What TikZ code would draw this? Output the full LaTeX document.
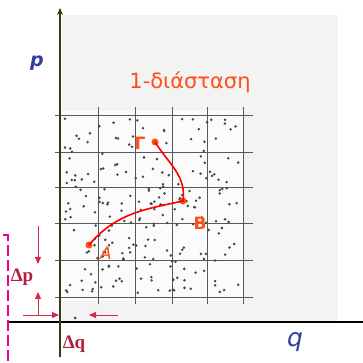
\documentclass[tikz,border=0pt]{standalone}
\usepackage{fontspec}
\setmainfont{DejaVu Sans}
\newfontfamily\serifbold{Liberation Serif}
\usetikzlibrary{arrows.meta}
\definecolor{deltared}{RGB}{178,30,62}
\definecolor{arrred}{RGB}{214,40,72}
\definecolor{ptorange}{RGB}{255,78,24}
\definecolor{axisblue}{RGB}{48,62,160}
\definecolor{axisolive}{RGB}{58,56,20}
\definecolor{paper}{RGB}{243,243,243}
\tikzset{
  gridline/.style={draw=black!65, line width=0.9pt},
  pt/.style={circle, fill=ptorange, inner sep=0pt, minimum size=7pt},
  ptlabel/.style={text=ptorange, font=\fontsize{17}{17}\selectfont\bfseries},
  delta/.style={text=deltared, font=\serifbold\fontsize{19}{19}\selectfont\bfseries},
  darr/.style={draw=arrred, line width=0.9pt, -{Triangle[length=7pt,width=6pt]}}
}
\begin{document}
\begin{tikzpicture}[x=1pt, y=1pt]
  \useasboundingbox (0,0) rectangle (363,363);
  % scanned sheet behind the lattice
  \fill[paper] (62,42) rectangle (338,348);
  \fill[white!70!paper] (61,62) rectangle (243,252);
  % cells of phase space
  \foreach \y in {66,103,140,176,211,248}
    \draw[gridline] (55,\y) -- (253,\y);
  \foreach \x in {98,135,172,207,243}
    \draw[gridline] (\x,59) -- (\x,256);
  % states
  \pgfmathsetseed{11}
  \foreach \k in {1,...,230}
    \fill[black!72] (64+rnd*176,70+rnd*175) circle (1.4);
  \fill[black!72] (75,45) circle (1.5);
  % axes
  \draw[line width=1.4pt] (9,41) -- (363,41);
  \draw[axisolive, line width=1.4pt, -{Stealth[length=7pt,width=6pt]}] (60,6) -- (60,355);
  \node[text=axisblue, font=\fontsize{19}{19}\selectfont\bfseries\itshape] (plabel) at (37,300) {p};
  \node[text=axisblue, font=\fontsize{25}{25}\selectfont\itshape] (qlabel) at (295,21) {q};
  \node[text=ptorange, font=\fontsize{21}{21}\selectfont] (title) at (190,281) {1-διάσταση};
  % trajectory
  \node[pt] (A) at (89,118) {};
  \node[pt] (B) at (183,162) {};
  \node[pt] (G) at (155,221) {};
  \draw[red, line width=1.6pt] (A.center) to[out=50, in=192] (B.center)
    to[out=82, in=-58] (G.center);
  \node[ptlabel, font=\fontsize{17}{17}\selectfont\itshape] (Alab) at (106,110) {A};
  \node[ptlabel] (Blab) at (200,140) {B};
  \node[ptlabel] (Glab) at (140,220) {Γ};
  % cell size
  \node[delta] (dp) at (22,86) {Δp};
  \node[delta] (dq) at (74,19) {Δq};
  \coordinate (dpTop) at (38,137);
  \coordinate (dpBot) at (38,99);
  \coordinate (corner) at (38,48);
  \coordinate (hlStart) at (23,48);
  \coordinate (hlEnd) at (59,48);
  \coordinate (dqStart) at (118,48);
  \coordinate (dqEnd) at (89,48);
  \coordinate (upEnd) at (38,71);
  \draw[darr] (dpTop) -- (dpBot);
  \draw[darr] (corner) -- (upEnd);
  \draw[darr] (hlStart) -- (hlEnd);
  \draw[darr] (dqStart) -- (dqEnd);
  % marker edge
  \draw[magenta, line width=1.6pt, dash pattern=on 11pt off 4pt] (3,128) -- (8,128) -- (8,0);
\end{tikzpicture}
\end{document}
